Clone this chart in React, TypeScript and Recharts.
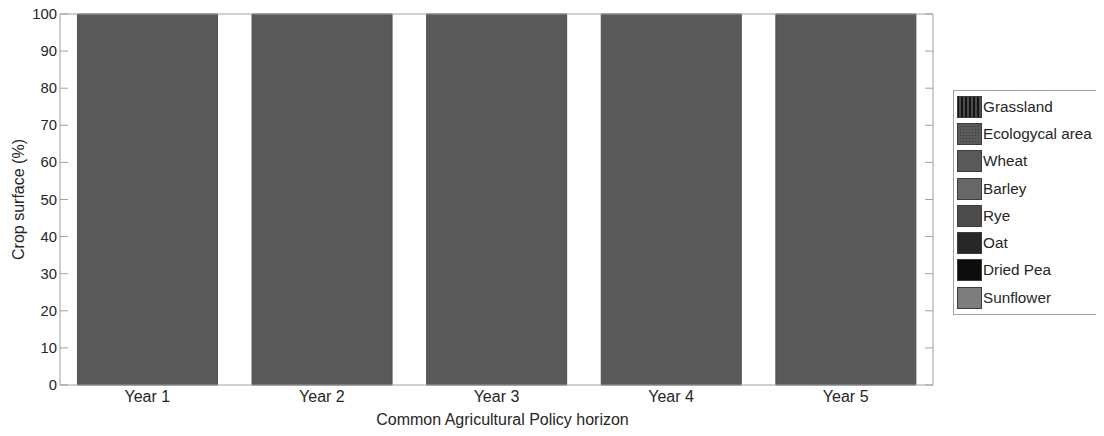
import React from 'react';
import { BarChart, Bar, XAxis, YAxis, Legend } from 'recharts';

const categories = ['Year 1', 'Year 2', 'Year 3', 'Year 4', 'Year 5'];
const grassland = [0, 0, 0, 0, 0];
const ecologicalArea = [0, 0, 0, 0, 0];
const wheat = [100, 100, 100, 100, 100];
const barley = [0, 0, 0, 0, 0];
const rye = [0, 0, 0, 0, 0];
const oat = [0, 0, 0, 0, 0];
const driedPea = [0, 0, 0, 0, 0];
const sunflower = [0, 0, 0, 0, 0];
const yTicks = [0, 10, 20, 30, 40, 50, 60, 70, 80, 90, 100];

const seriesDefs = [
  { key: 'grassland', name: 'Grassland', values: grassland, color: '#2a2a2a', pattern: 'stripes' },
  { key: 'ecological', name: 'Ecologycal area', values: ecologicalArea, color: '#555555', pattern: 'dots' },
  { key: 'wheat', name: 'Wheat', values: wheat, color: '#595959', pattern: '' },
  { key: 'barley', name: 'Barley', values: barley, color: '#676767', pattern: '' },
  { key: 'rye', name: 'Rye', values: rye, color: '#4b4b4b', pattern: '' },
  { key: 'oat', name: 'Oat', values: oat, color: '#272727', pattern: '' },
  { key: 'driedPea', name: 'Dried Pea', values: driedPea, color: '#0d0d0d', pattern: '' },
  { key: 'sunflower', name: 'Sunflower', values: sunflower, color: '#7d7d7d', pattern: '' },
];

const data = categories.map((c, i) => {
  const row: any = { name: c };
  seriesDefs.forEach((s) => { row[s.key] = s.values[i]; });
  return row;
});

const FONT = 'Arial, "Liberation Sans", sans-serif';
const TEXT = '#262626';
const BOX = '#a0a0a0';

const LeftTick = (props: any) => {
  const { x, y, payload } = props;
  return (
    <g>
      <line x1={x + 3} x2={x + 11} y1={y} y2={y} stroke={BOX} strokeWidth={1} />
      <text x={x} y={y} dy={5} textAnchor="end" fontSize={14.8} fill={TEXT} fontFamily={FONT}>
        {payload.value}
      </text>
    </g>
  );
};

const RightTick = (props: any) => {
  const { x, y } = props;
  return <line x1={x} x2={x - 8} y1={y} y2={y} stroke={BOX} strokeWidth={1} />;
};

const YLabel = (props: any) => {
  const vb = props.viewBox || { x: 0, y: 0, width: 0, height: 0 };
  const cx = 15.5;
  const cy = vb.y + vb.height / 2;
  return (
    <text x={cx} y={cy} transform={`rotate(-90 ${cx} ${cy})`} textAnchor="middle" fontSize={16} fill={TEXT} fontFamily={FONT}>
      Crop surface (%)
    </text>
  );
};

const Swatch = ({ s }: { s: any }) => {
  const id = `sw-${s.key}`;
  let fill = s.color;
  let defs = null;
  if (s.pattern === 'stripes') {
    defs = (
      <pattern id={id} width={4} height={4} patternUnits="userSpaceOnUse">
        <rect width={4} height={4} fill="#4a4a4a" />
        <rect width={2} height={4} fill="#141414" />
      </pattern>
    );
    fill = `url(#${id})`;
  } else if (s.pattern === 'dots') {
    defs = (
      <pattern id={id} width={3} height={3} patternUnits="userSpaceOnUse">
        <rect width={3} height={3} fill="#5a5a5a" />
        <rect width={1} height={1} fill="#3a3a3a" />
      </pattern>
    );
    fill = `url(#${id})`;
  }
  return (
    <svg width={25} height={22} style={{ display: 'block' }}>
      {defs && <defs>{defs}</defs>}
      <rect x={0.5} y={0.5} width={24} height={21} fill={fill} stroke="#3c3c3c" strokeWidth={1} />
    </svg>
  );
};

const LegendContent = () => (
  <div
    style={{
      border: `1px solid ${BOX}`,
      background: '#fff',
      width: 144,
      height: 221,
      boxSizing: 'content-box',
      paddingTop: 2,
      fontFamily: FONT,
    }}
  >
    {seriesDefs.map((s) => (
      <div key={s.key} style={{ display: 'flex', alignItems: 'center', height: 27.3, paddingLeft: 3 }}>
        <Swatch s={s} />
        <span style={{ marginLeft: 1, fontSize: 15.3, color: TEXT, whiteSpace: 'nowrap' }}>{s.name}</span>
      </div>
    ))}
  </div>
);

export default function App() {
  return (
    <div style={{ position: 'relative', width: 1088, height: 420 }}>
      <BarChart
        width={1088}
        height={420}
        data={data}
        margin={{ top: 5, right: 162, bottom: 0, left: 0 }}
        barCategoryGap="10%"
      >
        <XAxis
          dataKey="name"
          height={43}
          tickLine={false}
          tickSize={0}
          tickMargin={6}
          axisLine={{ stroke: BOX, strokeWidth: 1 }}
          tick={{ fontSize: 16, fill: TEXT, fontFamily: FONT }}
          label={{
            value: 'Common Agricultural Policy horizon',
            position: 'insideBottom',
            offset: 3,
            dx: 6,
            fontSize: 16,
            fill: TEXT,
            fontFamily: FONT,
          }}
        />
        <XAxis
          xAxisId="top"
          dataKey="name"
          orientation="top"
          height={1}
          tick={false}
          tickLine={false}
          axisLine={{ stroke: BOX, strokeWidth: 1 }}
        />
        <YAxis
          width={52}
          domain={[0, 100]}
          ticks={yTicks}
          interval={0}
          tickLine={false}
          tickSize={0}
          tickMargin={3}
          axisLine={{ stroke: BOX, strokeWidth: 1 }}
          tick={<LeftTick />}
          label={<YLabel />}
        />
        <YAxis
          yAxisId="right"
          orientation="right"
          type="number"
          width={1}
          domain={[0, 100]}
          allowDataOverflow={true}
          ticks={yTicks}
          interval={0}
          tickLine={false}
          tickSize={0}
          tickMargin={0}
          axisLine={{ stroke: BOX, strokeWidth: 1 }}
          tick={<RightTick />}
        />
        <Legend
          layout="vertical"
          align="center"
          verticalAlign="middle"
          content={<LegendContent />}
          wrapperStyle={{ position: 'absolute', left: 945, top: 82, width: 146, height: 225 }}
        />
        {seriesDefs.map((s) => (
          <Bar
            key={s.key}
            dataKey={s.key}
            name={s.name}
            stackId="crops"
            fill={s.color}
            stroke="#4f4f4f"
            strokeWidth={1}
            isAnimationActive={false}
          />
        ))}
      </BarChart>
    </div>
  );
}
